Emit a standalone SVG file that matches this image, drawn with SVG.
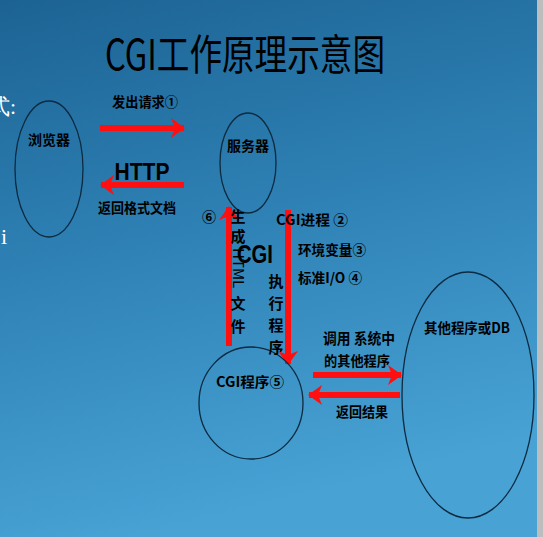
<svg xmlns="http://www.w3.org/2000/svg" width="543" height="537" viewBox="0 0 543 537">
<defs>
<linearGradient id="bg" x1="0" y1="0" x2="0.25" y2="1">
<stop offset="0" stop-color="#1c6393"/>
<stop offset="0.5" stop-color="#2f82b6"/>
<stop offset="1" stop-color="#48a2d4"/>
</linearGradient>
<marker id="ah" viewBox="0 0 14 20" refX="13" refY="10" markerWidth="14" markerHeight="20" markerUnits="userSpaceOnUse" orient="auto">
<path d="M0,0 L14,10 L0,20 L4,10 Z" fill="#ff1010"/>
</marker>
<style>
.lbl{font-family:"Noto Sans CJK SC","Liberation Sans",sans-serif;font-weight:bold;font-size:14px;fill:#000}
.node{fill:none;stroke:#0d2a40;stroke-width:1.3}
.arr{stroke:#ff1010;stroke-width:6;fill:none;marker-end:url(#ah)}
.vt{font-family:"Noto Sans CJK SC","Liberation Sans",sans-serif;font-weight:bold;font-size:15px;fill:#000;text-anchor:middle}
</style>
</defs>
<rect width="543" height="537" fill="url(#bg)"/>
<rect x="537" y="0" width="6" height="537" fill="#bdbdbd"/>
<text x="-12" y="114" font-family="Liberation Serif,serif" font-size="22" fill="#fff">式:</text>
<text x="1" y="244" font-family="Liberation Serif,serif" font-size="22" fill="#fff">i</text>
<text x="105" y="70" font-family="Noto Sans CJK SC,Liberation Sans,sans-serif" font-size="42" textLength="280" lengthAdjust="spacingAndGlyphs" fill="#000">CGI工作原理示意图</text>
<g id="connectors">
<line class="arr" x1="100" y1="128" x2="184" y2="128"/>
<line class="arr" x1="184" y1="185" x2="101" y2="185"/>
<line class="arr" x1="229" y1="346" x2="229" y2="207"/>
<line class="arr" x1="288" y1="210" x2="288" y2="364"/>
<line class="arr" x1="313" y1="375" x2="401" y2="375"/>
<line class="arr" x1="400" y1="395" x2="309" y2="395"/>
</g>
<g id="browser">
<ellipse class="node" cx="49" cy="169" rx="34" ry="68"/>
<text class="lbl" x="49" y="145" text-anchor="middle" font-size="13">浏览器</text>
</g>
<g id="server">
<ellipse class="node" cx="248" cy="163" rx="28" ry="50"/>
<text class="lbl" x="248" y="151" text-anchor="middle" font-size="13">服务器</text>
</g>
<g id="cgi-program">
<ellipse class="node" cx="251" cy="403" rx="52" ry="56"/>
<text class="lbl" x="250" y="387" text-anchor="middle" textLength="68" lengthAdjust="spacingAndGlyphs">CGI程序⑤</text>
</g>
<g id="other">
<ellipse class="node" cx="468" cy="395" rx="66" ry="123"/>
<text class="lbl" x="467" y="333" text-anchor="middle" textLength="86" lengthAdjust="spacingAndGlyphs">其他程序或DB</text>
</g>
<g id="labels">
<text class="lbl" x="112" y="107" textLength="66" lengthAdjust="spacingAndGlyphs">发出请求①</text>
<text x="142" y="180" text-anchor="middle" font-family="Liberation Sans,sans-serif" font-weight="bold" font-size="24" textLength="55" lengthAdjust="spacingAndGlyphs">HTTP</text>
<text class="lbl" x="98" y="213" textLength="78" lengthAdjust="spacingAndGlyphs">返回格式文档</text>
<text class="lbl" x="202" y="222" font-size="15">⑥</text>
<text class="vt" x="238" y="222">生</text>
<text class="vt" x="238" y="242">成</text>
<text class="vt" transform="translate(233,248) rotate(90)" x="0" y="0" style="text-anchor:start;font-weight:normal" font-size="14">HTML</text>
<text class="vt" x="238" y="309">文</text>
<text class="vt" x="238" y="332">件</text>
<text x="255" y="263" text-anchor="middle" font-family="Liberation Sans,sans-serif" font-weight="bold" font-size="26" textLength="36" lengthAdjust="spacingAndGlyphs">CGI</text>
<text class="vt" x="276" y="287">执</text>
<text class="vt" x="276" y="309">行</text>
<text class="vt" x="276" y="331">程</text>
<text class="vt" x="276" y="353">序</text>
<text class="lbl" x="276" y="225" textLength="72" lengthAdjust="spacingAndGlyphs">CGI进程 ②</text>
<text class="lbl" x="298" y="255" textLength="68" lengthAdjust="spacingAndGlyphs">环境变量③</text>
<text class="lbl" x="298" y="283" textLength="64" lengthAdjust="spacingAndGlyphs">标准I/O ④</text>
<text class="vt" x="359" y="344" font-size="14" textLength="72" lengthAdjust="spacingAndGlyphs">调用 系统中</text>
<text class="lbl" x="357" y="366" text-anchor="middle" textLength="66" lengthAdjust="spacingAndGlyphs">的其他程序</text>
<text class="lbl" x="362" y="417" text-anchor="middle" textLength="52" lengthAdjust="spacingAndGlyphs">返回结果</text>
</g>
</svg>
